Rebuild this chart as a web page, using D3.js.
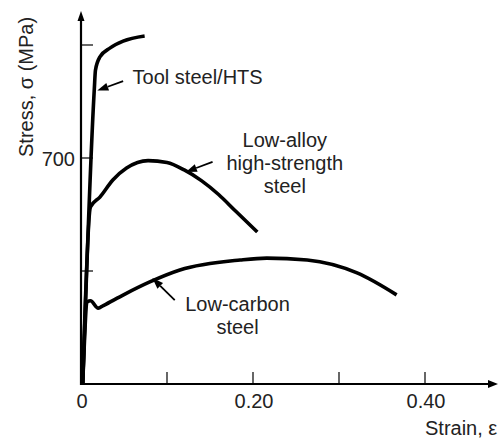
<!DOCTYPE html>
<html>
<head>
<meta charset="utf-8">
<script src="https://cdn.jsdelivr.net/npm/d3@7"></script>
<style>
  body { margin: 0; background: #fff; }
  svg text { font-family: "Liberation Sans", Arial, sans-serif; fill: #222; }
</style>
</head>
<body>
<div id="chart"></div>
<script>
// strain values and stress (MPa)
var toolStrain = [0.002, 0.0155, 0.0168, 0.022, 0.034, 0.049, 0.074];
var toolStress = [0, 915, 972, 1013, 1041, 1062, 1078];

var alloyStrain = [0.002, 0.011, 0.022, 0.037, 0.053, 0.078, 0.100, 0.120, 0.140, 0.160, 0.180, 0.205];
var alloyStress = [0, 548, 579, 632, 669, 692, 686, 663, 630, 587, 535, 471];

var carbonStrain = [0.002, 0.0075, 0.011, 0.020, 0.026, 0.050, 0.080, 0.115, 0.185, 0.216, 0.263, 0.321, 0.367];
var carbonStress = [0, 255, 258, 235, 243, 277, 316, 353, 384, 390, 384, 344, 276];

var xTicks = [0.1, 0.2, 0.3, 0.4];
var xTickLabels = [[0, "0"], [0.2, "0.20"], [0.4, "0.40"]];
var yTicks = [350, 700, 1050];
var yTickLabels = [[700, "700"]];

// callouts: label lines, text anchor point, arrow tail -> head (data units)
var notes = [
  { lines: ["Tool steel/HTS"], at: [0.060, 929], anchor: "start", tail: [0.049, 938], head: [0.019, 909] },
  { lines: ["Low-alloy", "high-strength", "steel"], at: [0.237, 734], anchor: "middle", tail: [0.153, 688], head: [0.122, 657] },
  { lines: ["Low-carbon", "steel"], at: [0.182, 226], anchor: "middle", tail: [0.109, 260], head: [0.083, 328] }
];

var width = 498, height = 438;
var fs = 20;

var svg = d3.select("#chart").append("svg")
    .attr("width", width)
    .attr("height", height);

var x = d3.scaleLinear().domain([0, 0.4]).range([81, 425]);
var y = d3.scaleLinear().domain([0, 1050]).range([384, 45]);

function zip(a, b) { return a.map(function(v, i) { return [v, b[i]]; }); }

var line = d3.line()
    .x(function(d) { return x(d[0]); })
    .y(function(d) { return y(d[1]); })
    .curve(d3.curveMonotoneX);

// axes
var axisColor = "#000";
svg.append("line")
    .attr("x1", x(0)).attr("x2", 492)
    .attr("y1", y(0)).attr("y2", y(0))
    .attr("stroke", axisColor).attr("stroke-width", 2.2);
svg.append("path")
    .attr("d", "M498," + y(0) + " L488," + (y(0) - 4) + " L488," + (y(0) + 4) + "Z")
    .attr("fill", axisColor);

svg.append("line")
    .attr("x1", x(0)).attr("x2", x(0))
    .attr("y1", y(0) + 1).attr("y2", 18)
    .attr("stroke", axisColor).attr("stroke-width", 2.2);
svg.append("path")
    .attr("d", "M" + x(0) + ",11 L" + (x(0) - 3.5) + ",21 L" + (x(0) + 3.5) + ",21Z")
    .attr("fill", axisColor);

svg.selectAll(".xtick")
    .data(xTicks)
  .enter().append("line")
    .attr("x1", function(d) { return x(d); })
    .attr("x2", function(d) { return x(d); })
    .attr("y1", y(0)).attr("y2", y(0) - 12)
    .attr("stroke", axisColor).attr("stroke-width", 1.2);

svg.selectAll(".ytick")
    .data(yTicks)
  .enter().append("line")
    .attr("x1", x(0)).attr("x2", x(0) + 12)
    .attr("y1", function(d) { return y(d); })
    .attr("y2", function(d) { return y(d); })
    .attr("stroke", axisColor).attr("stroke-width", 1.2);

svg.selectAll(".xlab")
    .data(xTickLabels)
  .enter().append("text")
    .attr("x", function(d) { return x(d[0]) + 1; })
    .attr("y", 408)
    .attr("text-anchor", "middle")
    .attr("font-size", fs)
    .text(function(d) { return d[1]; });

svg.selectAll(".ylab")
    .data(yTickLabels)
  .enter().append("text")
    .attr("x", 75)
    .attr("y", function(d) { return y(d[0]) + 8; })
    .attr("text-anchor", "end")
    .attr("font-size", fs)
    .text(function(d) { return d[1]; });

svg.append("text")
    .attr("x", 425).attr("y", 435)
    .attr("font-size", fs)
    .text("Strain, \u03b5");

svg.append("text")
    .attr("transform", "translate(33,157) rotate(-90)")
    .attr("font-size", fs)
    .text("Stress, \u03c3 (MPa)");

// curves
[zip(toolStrain, toolStress), zip(alloyStrain, alloyStress), zip(carbonStrain, carbonStress)].forEach(function(s) {
  svg.append("path")
      .datum(s)
      .attr("fill", "none")
      .attr("stroke", "#000")
      .attr("stroke-width", 3.6)
      .attr("stroke-linejoin", "round")
      .attr("d", line);
});

// callouts
notes.forEach(function(n) {
  var tx = x(n.tail[0]), ty = y(n.tail[1]);
  var hx = x(n.head[0]), hy = y(n.head[1]);
  var ang = Math.atan2(hy - ty, hx - tx);
  var len = 11, half = 4;
  var bx = hx - len * Math.cos(ang), by = hy - len * Math.sin(ang);
  svg.append("line")
      .attr("x1", tx).attr("y1", ty)
      .attr("x2", bx).attr("y2", by)
      .attr("stroke", "#000").attr("stroke-width", 1.8);
  svg.append("path")
      .attr("d", "M" + hx + "," + hy +
        " L" + (bx + half * Math.sin(ang)) + "," + (by - half * Math.cos(ang)) +
        " L" + (bx - half * Math.sin(ang)) + "," + (by + half * Math.cos(ang)) + "Z")
      .attr("fill", "#000");
  n.lines.forEach(function(t, i) {
    svg.append("text")
        .attr("x", x(n.at[0]))
        .attr("y", y(n.at[1]) + i * 23)
        .attr("text-anchor", n.anchor)
        .attr("font-size", fs)
        .text(t);
  });
});
</script>
</body>
</html>
